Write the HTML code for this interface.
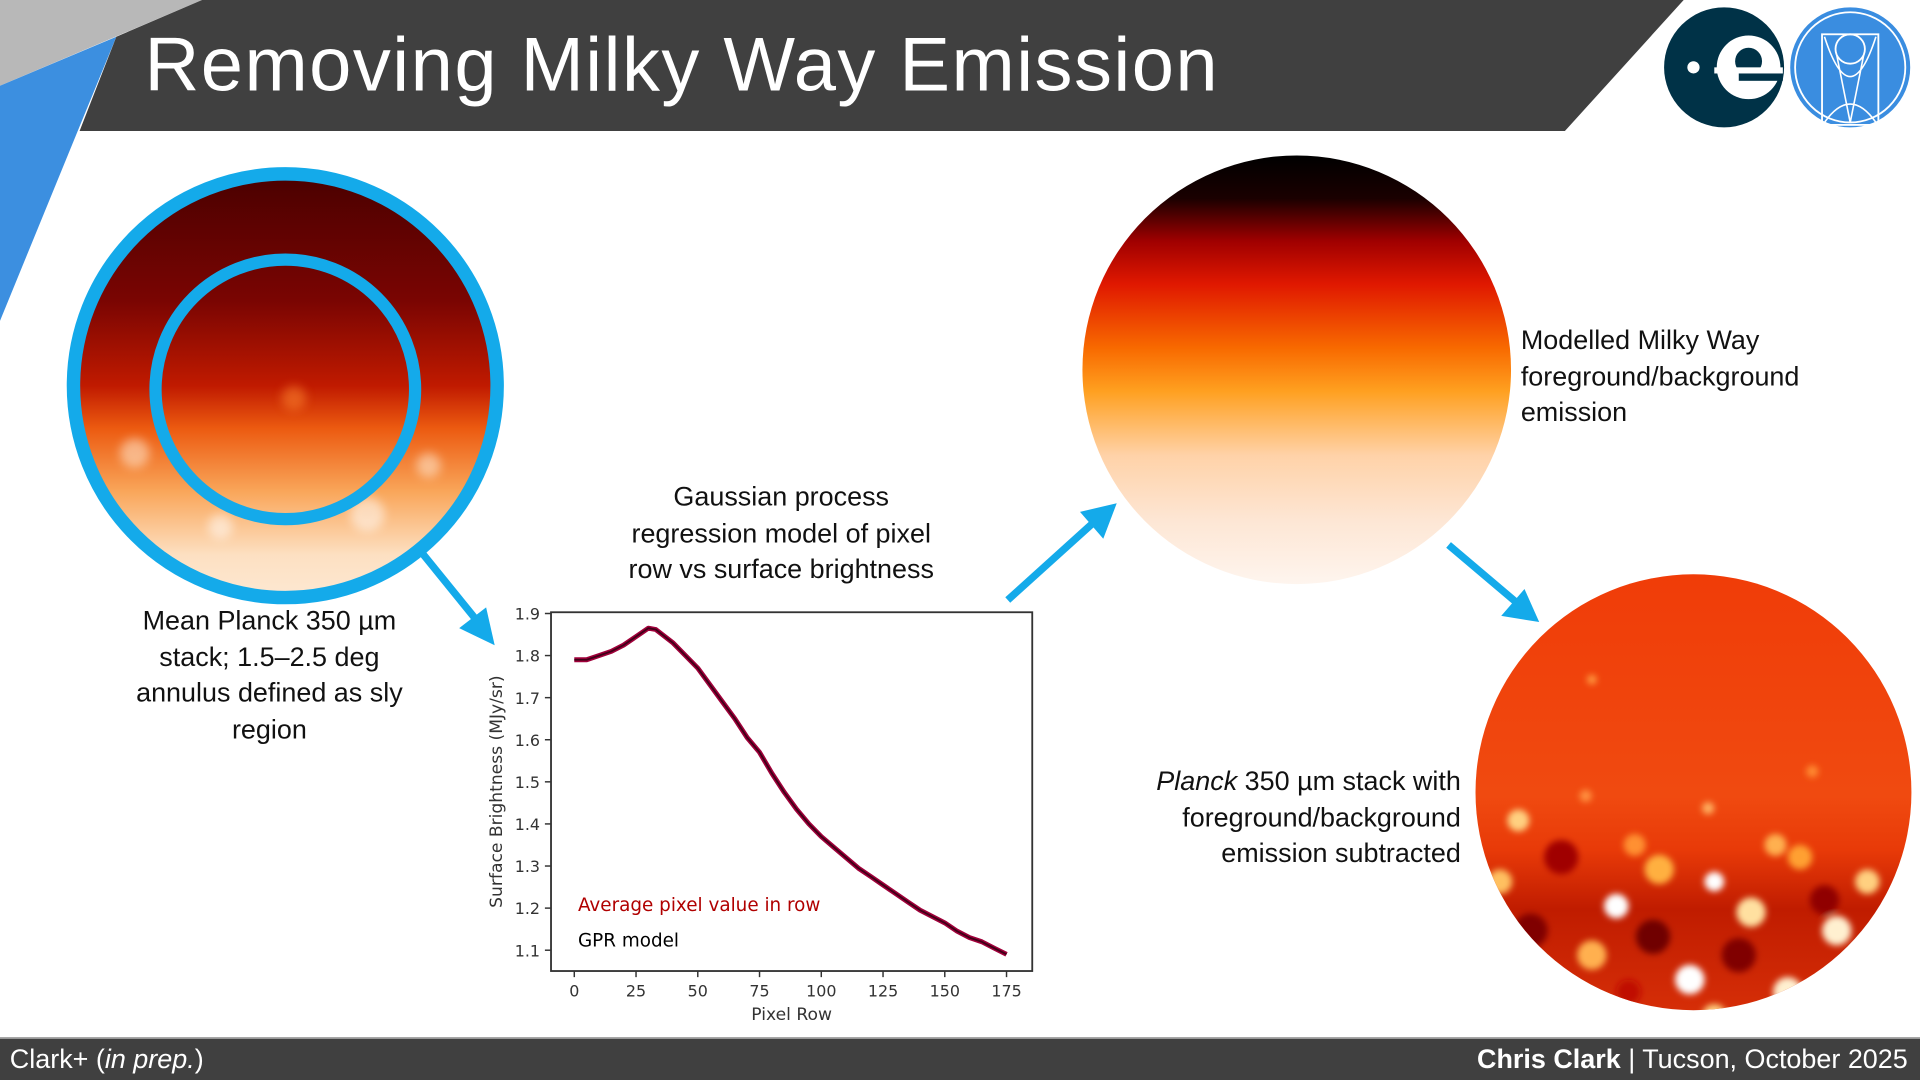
<!DOCTYPE html>
<html><head><meta charset="utf-8">
<style>
html,body{margin:0;padding:0;width:1920px;height:1080px;overflow:hidden;background:#fff}
#stage{position:absolute;left:0;top:0;width:1568px;height:882px;transform:scale(1.22449);transform-origin:0 0;font-family:"Liberation Sans","DejaVu Sans",sans-serif}
.abs{position:absolute}
.cap{font-size:22px;color:#111;line-height:29.5px;text-align:center;white-space:nowrap}
</style></head><body>
<div id="stage">
<svg class="abs" style="left:0;top:0" width="1568" height="882">
  <defs>
    <linearGradient id="g1" x1="0" y1="0" x2="0" y2="1">
      <stop offset="0" stop-color="#4a0000"/><stop offset="0.3" stop-color="#7a0502"/>
      <stop offset="0.5" stop-color="#c01a00"/><stop offset="0.6" stop-color="#ec5a10"/>
      <stop offset="0.75" stop-color="#f9a65a"/><stop offset="0.9" stop-color="#fde0c2"/><stop offset="1" stop-color="#fde8d2"/>
    </linearGradient>
    <linearGradient id="g2" x1="0" y1="0" x2="0" y2="1">
      <stop offset="0" stop-color="#000"/><stop offset="0.1" stop-color="#1a0000"/>
      <stop offset="0.2" stop-color="#a00000"/><stop offset="0.3" stop-color="#e01800"/>
      <stop offset="0.45" stop-color="#f86a00"/><stop offset="0.55" stop-color="#ffa020"/>
      <stop offset="0.7" stop-color="#ffd2a8"/><stop offset="0.85" stop-color="#fde6d4"/><stop offset="1" stop-color="#fef5ee"/>
    </linearGradient>
    <linearGradient id="g3" x1="0" y1="0" x2="0" y2="1">
      <stop offset="0" stop-color="#f03c08"/><stop offset="0.5" stop-color="#f04a10"/>
      <stop offset="0.62" stop-color="#e83a08"/><stop offset="0.75" stop-color="#c01c00"/><stop offset="1" stop-color="#d83008"/>
    </linearGradient>
    <filter id="blur"><feGaussianBlur stdDeviation="4"/></filter>
    <filter id="blur2"><feGaussianBlur stdDeviation="2.5"/></filter>
    <clipPath id="c3"><circle cx="1383" cy="647" r="178"/></clipPath>
  </defs>
  <polygon points="0,0 165,0 0,70" fill="#b8b8b8"/>
  <polygon points="0,70 95,30 0,262" fill="#3c8fe0"/>
  <polygon points="165,0 1375,0 1278,107 65,107 95,30" fill="#404040"/>
  <g>
    <circle cx="1408" cy="55" r="49" fill="#003247"/>
    <circle cx="1383" cy="55" r="5" fill="#fff"/>
    <circle cx="1428" cy="55" r="26" fill="#fff"/>
    <circle cx="1428" cy="50" r="11" fill="#003247"/>
    <rect x="1420" y="58" width="36" height="8" fill="#003247"/>
    <rect x="1400" y="55" width="56" height="5" fill="#fff"/>
  </g>
  <g>
    <circle cx="1511" cy="55" r="49" fill="#3a8de0"/>
    <circle cx="1511" cy="55" r="45" fill="none" stroke="#fff" stroke-width="1.5"/>
    <rect x="1488" y="28" width="46" height="74" fill="none" stroke="#fff" stroke-width="1.5"/>
    <circle cx="1511" cy="40" r="12" fill="none" stroke="#fff" stroke-width="1.5"/>
    <path d="M1490 30 Q1511 95 1532 30 M1500 45 L1511 100 L1522 45 M1490 100 Q1511 70 1532 100" fill="none" stroke="#fff" stroke-width="1.3"/>
  </g>
  <g>
    <circle cx="233" cy="315" r="173" fill="url(#g1)"/>
    <g filter="url(#blur)" opacity="0.5">
      <circle cx="110" cy="370" r="12" fill="#fff3e0"/><circle cx="180" cy="430" r="10" fill="#fff"/>
      <circle cx="300" cy="420" r="14" fill="#fff"/><circle cx="240" cy="325" r="10" fill="#ff8a30"/>
      <circle cx="350" cy="380" r="10" fill="#fff3e0"/>
    </g>
    <circle cx="233" cy="315" r="173" fill="none" stroke="#14aaea" stroke-width="11"/>
    <circle cx="233" cy="318" r="106" fill="none" stroke="#14aaea" stroke-width="10"/>
  </g>
  <circle cx="1059" cy="302" r="175" fill="url(#g2)"/>
  <g clip-path="url(#c3)">
    <rect x="1200" y="465" width="370" height="370" fill="url(#g3)"/>
    <g filter="url(#blur2)">
      <circle cx="1240" cy="670" r="9" fill="#ffd080"/><circle cx="1275" cy="700" r="14" fill="#a00000"/>
      <circle cx="1320" cy="740" r="10" fill="#fff"/><circle cx="1355" cy="710" r="12" fill="#ffb040"/>
      <circle cx="1400" cy="720" r="8" fill="#fff"/><circle cx="1430" cy="745" r="12" fill="#ffe0a0"/>
      <circle cx="1470" cy="700" r="10" fill="#ffa030"/><circle cx="1500" cy="760" r="12" fill="#fff0d0"/>
      <circle cx="1250" cy="760" r="14" fill="#800000"/><circle cx="1300" cy="780" r="12" fill="#ffb050"/>
      <circle cx="1350" cy="765" r="14" fill="#700000"/><circle cx="1380" cy="800" r="12" fill="#fff"/>
      <circle cx="1420" cy="780" r="14" fill="#800000"/><circle cx="1460" cy="810" r="12" fill="#fff0d0"/>
      <circle cx="1490" cy="735" r="12" fill="#900000"/><circle cx="1525" cy="720" r="10" fill="#ffd080"/>
      <circle cx="1530" cy="780" r="12" fill="#a00000"/><circle cx="1280" cy="820" r="12" fill="#900000"/>
      <circle cx="1225" cy="720" r="10" fill="#ffc060"/><circle cx="1335" cy="690" r="9" fill="#ff9030"/>
      <circle cx="1450" cy="690" r="9" fill="#ffb050"/><circle cx="1400" cy="830" r="10" fill="#ffd080"/>
      <circle cx="1330" cy="810" r="10" fill="#c01000"/>
      <circle cx="1300" cy="555" r="4" fill="#ff9a40"/><circle cx="1295" cy="650" r="5" fill="#ff9040"/>
      <circle cx="1395" cy="660" r="5" fill="#ffb060"/><circle cx="1480" cy="630" r="5" fill="#ff8a30"/>
    </g>
  </g>
  <g stroke="#14aaea" stroke-width="6" fill="#14aaea">
    <line x1="345" y1="452" x2="392" y2="510"/><polygon points="404,527 375,513 397,496" stroke="none"/>
    <line x1="823" y1="490" x2="895" y2="425"/><polygon points="912,411 901,440 882,418" stroke="none"/>
    <line x1="1183" y1="445" x2="1242" y2="495"/><polygon points="1257,508 1226,503 1245,481" stroke="none"/>
  </g>
  <rect x="0" y="848" width="1568" height="34" fill="#404040"/>
  <rect x="0" y="847" width="1568" height="1.5" fill="#999"/>
</svg>

<div class="abs" style="left:118px;top:18px;font-size:62px;color:#fff;white-space:nowrap;letter-spacing:1.2px">Removing Milky Way Emission</div>

<div class="abs cap" style="left:70px;top:492px;width:300px">Mean Planck 350 µm<br>stack; 1.5–2.5 deg<br>annulus defined as sly<br>region</div>
<div class="abs cap" style="left:478px;top:391px;width:320px">Gaussian process<br>regression model of pixel<br>row vs surface brightness</div>
<div class="abs cap" style="left:1242px;top:263px;width:300px;text-align:left">Modelled Milky Way<br>foreground/background<br>emission</div>
<div class="abs cap" style="left:880px;top:623px;width:313px;text-align:right"><i>Planck</i> 350 µm stack with<br>foreground/background<br>emission subtracted</div>

<div class="abs" style="left:8px;top:852px;font-size:22px;color:#fff;white-space:nowrap">Clark+ (<i>in prep.</i>)</div>
<div class="abs" style="right:10px;top:852px;font-size:22px;color:#fff;white-space:nowrap"><b>Chris Clark</b> | Tucson, October 2025</div>

<svg id="chart" class="abs" style="left:380px;top:485px" width="480" height="360"></svg>
</div>
<script>
const xTicks=[0,25,50,75,100,125,150,175];
const yTicks=[1.1,1.2,1.3,1.4,1.5,1.6,1.7,1.8,1.9];
const rows=[0,5,10,15,20,25,30,33,40,45,50,55,60,65,70,75,80,85,90,95,100,105,110,115,120,125,130,135,140,145,150,155,160,165,170,175];
const brightness=[1.79,1.79,1.80,1.81,1.825,1.845,1.865,1.862,1.83,1.80,1.77,1.73,1.69,1.65,1.605,1.57,1.52,1.475,1.435,1.40,1.37,1.345,1.32,1.295,1.275,1.255,1.235,1.215,1.195,1.18,1.165,1.145,1.13,1.12,1.105,1.09];
const NS='http://www.w3.org/2000/svg';
const svg=document.getElementById('chart');
const X0=70,X1=463,Y0=15,Y1=308;
const sx=v=>89+v*(442-89)/175;
const sy=v=>291-(v-1.1)*(291-16)/0.8;
function mk(t,a){const e=document.createElementNS(NS,t);for(const k in a)e.setAttribute(k,a[k]);svg.appendChild(e);return e;}
const frame=mk('rect',{x:X0,y:Y0,width:X1-X0,height:Y1-Y0,fill:'none',stroke:'#333','stroke-width':1.5});


xTicks.forEach(v=>{
  const t=mk('line',{x1:sx(v),x2:sx(v),y1:Y1,y2:Y1+5,stroke:'#333','stroke-width':1.2});
  
  
  const l=mk('text',{x:sx(v),y:Y1+21,'text-anchor':'middle','font-size':13,fill:'#333','font-family':'DejaVu Sans, sans-serif'});
  l.textContent=v;
  
  
});
yTicks.forEach(v=>{
  const t=mk('line',{x1:X0-5,x2:X0,y1:sy(v),y2:sy(v),stroke:'#333','stroke-width':1.2});
  
  
  const l=mk('text',{x:X0-9,y:sy(v)+5,'text-anchor':'end','font-size':13,fill:'#333','font-family':'DejaVu Sans, sans-serif'});
  l.textContent=v.toFixed(1);
  
  
});
const xt=mk('text',{x:(X0+X1)/2,y:Y1+40,'text-anchor':'middle','font-size':14,fill:'#333','font-family':'DejaVu Sans, sans-serif'});
xt.textContent='Pixel Row';


const yt=mk('text',{x:0,y:0,'text-anchor':'middle','font-size':14,fill:'#333','font-family':'DejaVu Sans, sans-serif',transform:`translate(30,${(Y0+Y1)/2}) rotate(-90)`});
yt.textContent='Surface Brightness (MJy/sr)';


const d=rows.map((r,i)=>(i?'L':'M')+sx(r).toFixed(1)+' '+sy(brightness[i]).toFixed(1)).join(' ');
const avg=mk('path',{d:d,fill:'none',stroke:'#a0003a','stroke-width':4,'stroke-linejoin':'round'});


const gpr=mk('path',{d:d,fill:'none',stroke:'#400018','stroke-width':1.5,'stroke-linejoin':'round'});


const l1=mk('text',{x:92,y:259,'font-size':15,fill:'#b00000','font-family':'DejaVu Sans, sans-serif'});
l1.textContent='Average pixel value in row';


const l2=mk('text',{x:92,y:288,'font-size':15,fill:'#000','font-family':'DejaVu Sans, sans-serif'});
l2.textContent='GPR model';


</script>
</body></html>
